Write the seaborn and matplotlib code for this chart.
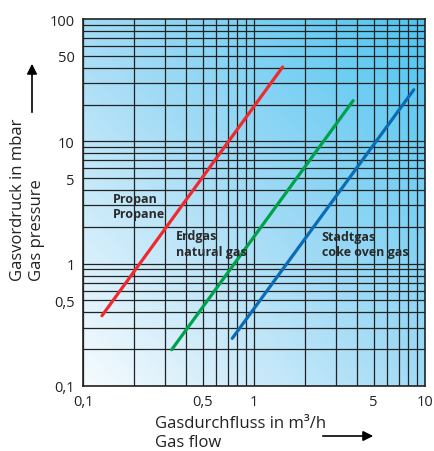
import numpy as np
import pandas as pd
import matplotlib
matplotlib.use("Agg")
import matplotlib.pyplot as plt
from matplotlib.colors import LinearSegmentedColormap
import seaborn as sns

# gas lines, flow in m3/h, pressure in mbar
gases = ["Propan", "Erdgas", "Stadtgas"]
propan_flow = [0.129, 1.47]
propan_pressure = [0.375, 40.5]
erdgas_flow = [0.33, 3.8]
erdgas_pressure = [0.198, 21.5]
stadtgas_flow = [0.746, 8.6]
stadtgas_pressure = [0.245, 26.4]

x_ticks = [0.1, 0.5, 1, 5, 10]
x_ticklabels = ["0,1", "0,5", "1", "5", "10"]
y_ticks = [0.1, 0.5, 1, 5, 10, 50, 100]
y_ticklabels = ["0,1", "0,5", "1", "5", "10", "50", "100"]

labels = ["Propan\nPropane", "Erdgas\nnatural gas", "Stadtgas\ncoke oven gas"]
label_x = [0.15, 0.348, 2.49]
label_y = [2.96, 1.46, 1.45]

df = pd.DataFrame({
    "flow": propan_flow + erdgas_flow + stadtgas_flow,
    "pressure": propan_pressure + erdgas_pressure + stadtgas_pressure,
    "gas": [g for g in gases for _ in range(2)],
})

sns.set_style("white")
plt.rcParams["font.family"] = ["Open Sans", "DejaVu Sans"]

fig = plt.figure(figsize=(4.35, 4.52), dpi=100)
pos = [83 / 435, 1 - 387 / 452, 342 / 435, 367 / 452]

# background gradient
bg = fig.add_axes(pos, zorder=0)
u, v = np.meshgrid(np.linspace(0, 1, 200), np.linspace(0, 1, 200))
grad = (u + v) / 2
cmap = LinearSegmentedColormap.from_list("bg", ["#f6fbfe", "#a2dbf6", "#4fc5f1"])
bg.imshow(grad, cmap=cmap, origin="lower", extent=[0, 1, 0, 1], aspect="auto")
bg.axis("off")

ax = fig.add_axes(pos, zorder=1)
ax.set_facecolor("none")
ax.set_xscale("log")
ax.set_yscale("log")

# grid at every 1..9 of each decade
for d in [0.1, 1]:
    for k in range(1, 10):
        ax.axvline(d * k, color="#222222", lw=0.9, zorder=1)
for d in [0.1, 1, 10]:
    for k in range(1, 10):
        ax.axhline(d * k, color="#222222", lw=0.9, zorder=1)

sns.lineplot(data=df, x="flow", y="pressure", hue="gas",
             palette=["#ee2a2e", "#00a14b", "#0a6cb5"], linewidth=2.3,
             legend=False, ax=ax, zorder=3)

ax.set_xlim(0.1, 10)
ax.set_ylim(0.1, 100)
ax.set_xticks(x_ticks)
ax.set_xticklabels(x_ticklabels)
ax.set_yticks(y_ticks)
ax.set_yticklabels(y_ticklabels)
ax.minorticks_off()
ax.tick_params(direction="out", length=4, width=1, color="#222222",
               labelsize=10.5, labelcolor="#222222", pad=2)
ax.set_xlabel("")
ax.set_ylabel("")
for s in ax.spines.values():
    s.set_color("#222222")
    s.set_linewidth(1.2)

for txt, x, y in zip(labels, label_x, label_y):
    ax.text(x, y, txt, fontsize=9, fontweight="bold", color="#2a2a2a",
            ha="left", va="center", linespacing=1.25, zorder=4)

# axis titles
fig.text(28 / 435, 1 - 281 / 452, "Gasvordruck in mbar\nGas pressure",
         rotation=90, ha="center", va="bottom", multialignment="left",
         fontsize=12, color="#222222", linespacing=1.25)
fig.text(155 / 435, 1 - 434 / 452, "Gasdurchfluss in m³/h\nGas flow",
         ha="left", va="center", multialignment="left",
         fontsize=12, color="#222222", linespacing=1.25)

# arrows
fig.add_artist(matplotlib.patches.FancyArrowPatch(
    (32 / 435, 1 - 116 / 452), (32 / 435, 1 - 62 / 452),
    transform=fig.transFigure, arrowstyle="-|>,head_length=6,head_width=3",
    color="black", lw=1.2))
fig.add_artist(matplotlib.patches.FancyArrowPatch(
    (320 / 435, 1 - 437 / 452), (376 / 435, 1 - 437 / 452),
    transform=fig.transFigure, arrowstyle="-|>,head_length=6,head_width=3",
    color="black", lw=1.2))

fig.savefig("out.png", dpi=100)
